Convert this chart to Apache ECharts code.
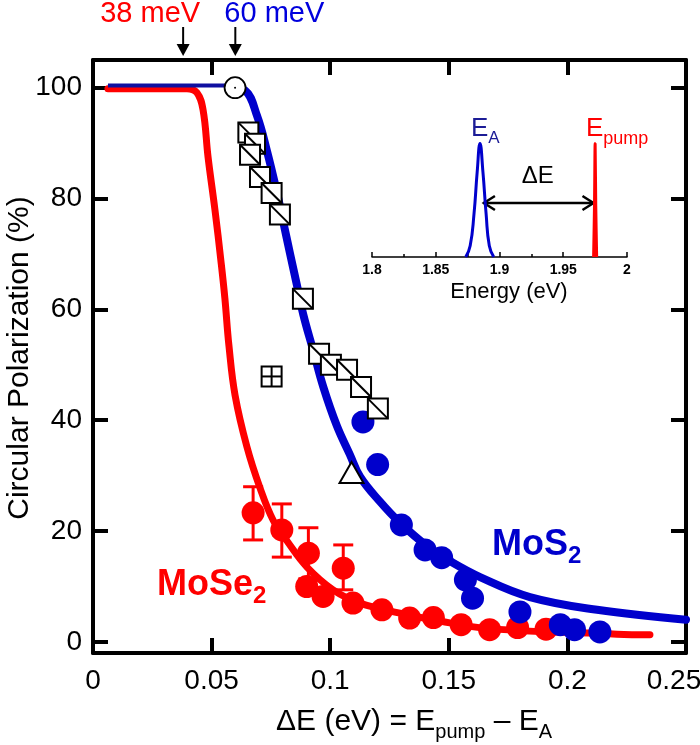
<!DOCTYPE html>
<html><head><meta charset="utf-8">
<script src="https://cdn.jsdelivr.net/npm/echarts@6/dist/echarts.min.js"></script>
<style>html,body{margin:0;padding:0;background:#fff}#c{width:700px;height:745px}</style>
</head><body><div id="c"></div>
<script>
// ---- axis ticks ----
const xTickValues = [0, 0.05, 0.1, 0.15, 0.2, 0.25];
const xTickLabels = ['0', '0.05', '0.1', '0.15', '0.2', '0.25'];
const yTickValues = [0, 20, 40, 60, 80, 100];
const yTickLabels = ['0', '20', '40', '60', '80', '100'];
const insetTickValues = [1.8, 1.85, 1.9, 1.95, 2.0];
const insetTickLabels = ['1.8', '1.85', '1.9', '1.95', '2'];

// ---- fits ----
const mose2Fit = [[0.0063,99.8],[0.0396,99.8],[0.0438,99.1],[0.0464,96.0],[0.0485,87.5],[0.0514,78.0],[0.0540,68.5],[0.0556,62.0],[0.0573,53.5],[0.0599,44.5],[0.0649,35.2],[0.0704,27.8],[0.0759,22.0],[0.0818,18.2],[0.0902,13.5],[0.1012,9.4],[0.1126,7.0],[0.1294,5.2],[0.1433,4.0],[0.1674,2.4],[0.2209,1.4],[0.2348,1.3]];
const mos2Plateau = [[0.0063,100.4],[0.058,100.4]];
const mos2Fit = [[0.058,100],[0.0641,99.5],[0.0691,95],[0.0734,88.5],[0.0776,81],[0.0801,76],[0.0831,70],[0.0859,64.5],[0.0887,59],[0.0929,52.5],[0.0971,46],[0.1028,39],[0.1083,33.8],[0.1126,29.8],[0.121,25.3],[0.1294,21.5],[0.1408,17.3],[0.1505,14.6],[0.1632,11.7],[0.1842,8.1],[0.2125,5.8],[0.25,4.0]];

// ---- data ----
const mose2Points = [[0.0901,10.0],[0.0970,8.2],[0.1096,7.0],[0.1218,5.8],[0.1335,4.3],[0.1435,4.4],[0.1552,3.1],[0.1672,2.2],[0.1790,2.6],[0.1910,2.3]];
const mose2ErrPoints = [[0.0675,23.3,18.4,28.0],[0.0796,20.2,15.3,24.9],[0.0908,16.0,11.4,20.6],[0.1055,13.3,9.4,17.5]];
const mos2Points = [[0.1138,39.7],[0.1200,32.0],[0.1300,21.1],[0.1400,16.6],[0.1470,15.2],[0.1570,11.2],[0.1600,7.9],[0.1800,5.4],[0.1970,3.1],[0.2030,2.2],[0.2137,1.8]];
const slashSquarePoints = [[0.0655,91.9],[0.0683,89.9],[0.0662,87.9],[0.0704,83.9],[0.0753,81.0],[0.0788,77.1],[0.0885,61.9],[0.0953,52.0],[0.1003,50.0],[0.1071,49.1],[0.1130,46.0],[0.1201,42.1]];
const crossSquarePoints = [[0.0753,47.9]];
const openCirclePoints = [[0.0599,100]];
const trianglePoints = [[0.1090,30.3]];

// ---- inset ----
const eaPeak = [[1.8735,0],[1.8770,0.10],[1.8800,0.38],[1.8825,0.75],[1.8847,1.0],[1.8870,0.75],[1.8895,0.38],[1.8920,0.10],[1.8955,0]];
const pumpPeak = [[1.9738,0],[1.9745,0.45],[1.9750,1.0],[1.9755,0.45],[1.9762,0]];
const deltaArrow = [[1.8870,0.476],[1.9745,0.476]];

// ---- top markers ----
const thresholdValues = [0.038, 0.060];
const thresholdLabels = ['38 meV', '60 meV'];
const thresholdColors = ['#ff0000', '#0000dd'];

const RED = '#ff0000', BLUE = '#0000cc';
const FONT = 'Liberation Sans, Arial, sans-serif';

const chart = echarts.init(document.getElementById('c'), null, {renderer: 'canvas'});

function idx(v, values) {
  let best = 0;
  values.forEach((t, i) => { if (Math.abs(t - v) < Math.abs(values[best] - v)) best = i; });
  return best;
}

const mainAxisLine = {show: true, onZero: false, lineStyle: {color: '#000', width: 4}};
const mainTick = {show: true, inside: true, length: 15, lineStyle: {color: '#000', width: 4}};

const option = {
  animation: false,
  backgroundColor: '#fff',
  grid: [
    {left: 93, right: 14, top: 60, bottom: 92, containLabel: false, outerBoundsMode: 'none'},
    {left: 372, top: 130, width: 255, height: 127, containLabel: false, outerBoundsMode: 'none'}
  ],
  xAxis: [
    {gridIndex: 0, type: 'value', min: 0, max: 0.25, position: 'bottom',
     axisLine: mainAxisLine, axisTick: Object.assign({}, mainTick, {customValues: xTickValues}),
     axisLabel: {customValues: xTickValues,
       formatter: v => { const i = idx(v, xTickValues); return i === xTickValues.length - 1 ? '{r|' + xTickLabels[i] + '}' : xTickLabels[i]; },
       rich: {r: {fontSize: 28, fontFamily: FONT, color: '#000', padding: [0, 24, 0, 0]}},
       color: '#000', fontSize: 28, fontFamily: FONT, margin: 14},
     splitLine: {show: false}},
    {gridIndex: 0, type: 'value', min: 0, max: 0.25, position: 'top',
     axisLine: mainAxisLine, axisTick: Object.assign({}, mainTick, {customValues: xTickValues}),
     axisLabel: {show: false}, splitLine: {show: false}},
    {gridIndex: 1, type: 'value', min: 1.8, max: 2.0, interval: 0.05,
     axisLine: {show: true, onZero: false, lineStyle: {color: '#000', width: 1.5}},
     axisTick: {show: true, inside: true, length: 5, lineStyle: {color: '#000', width: 1.5}},
     minorTick: {show: true, splitNumber: 2, length: 3, lineStyle: {color: '#000', width: 1.5}},
     axisLabel: {formatter: v => insetTickLabels[idx(v, insetTickValues)], color: '#000', fontSize: 14, fontWeight: 'bold', fontFamily: FONT, margin: 6},
     splitLine: {show: false}}
  ],
  yAxis: [
    {gridIndex: 0, type: 'value', min: -2, max: 105, position: 'left',
     axisLine: mainAxisLine, axisTick: Object.assign({}, mainTick, {customValues: yTickValues}),
     axisLabel: {customValues: yTickValues, formatter: v => yTickLabels[idx(v, yTickValues)], color: '#000', fontSize: 28, fontFamily: FONT, margin: 11},
     splitLine: {show: false}},
    {gridIndex: 0, type: 'value', min: -2, max: 105, position: 'right',
     axisLine: mainAxisLine, axisTick: Object.assign({}, mainTick, {customValues: yTickValues}),
     axisLabel: {show: false}, splitLine: {show: false}},
    {gridIndex: 1, type: 'value', min: 0, max: 1.12, show: false, splitLine: {show: false}}
  ],
  series: [
    {type: 'line', name: 'MoSe2 fit', xAxisIndex: 0, yAxisIndex: 0, data: mose2Fit, smooth: 0.4, showSymbol: false,
     lineStyle: {color: RED, width: 7, cap: 'round', join: 'round'}, z: 2},
    {type: 'line', name: 'MoS2 plateau', xAxisIndex: 0, yAxisIndex: 0, data: mos2Plateau, showSymbol: false,
     lineStyle: {color: '#1010a0', width: 4}, z: 3},
    {type: 'line', name: 'MoS2 fit', xAxisIndex: 0, yAxisIndex: 0, data: mos2Fit, smooth: 0.4, showSymbol: false,
     lineStyle: {color: BLUE, width: 8, cap: 'round', join: 'round'}, z: 3},
    {type: 'custom', name: 'MoSe2 err', xAxisIndex: 0, yAxisIndex: 0, data: mose2ErrPoints, z: 4,
     renderItem: (params, api) => {
       const top = api.coord([api.value(0), api.value(3)]);
       const bot = api.coord([api.value(0), api.value(2)]);
       const w = 10;
       const st = {stroke: RED, lineWidth: 3};
       return {type: 'group', children: [
         {type: 'line', shape: {x1: top[0], y1: top[1], x2: bot[0], y2: bot[1]}, style: st},
         {type: 'line', shape: {x1: top[0]-w, y1: top[1], x2: top[0]+w, y2: top[1]}, style: st},
         {type: 'line', shape: {x1: bot[0]-w, y1: bot[1], x2: bot[0]+w, y2: bot[1]}, style: st}
       ]};
     }},
    {type: 'scatter', name: 'MoSe2 err pts', xAxisIndex: 0, yAxisIndex: 0, data: mose2ErrPoints.map(d => [d[0], d[1]]), symbol: 'circle', symbolSize: 23,
     itemStyle: {color: RED, opacity: 1}, z: 5},
    {type: 'scatter', name: 'MoSe2', xAxisIndex: 0, yAxisIndex: 0, data: mose2Points, symbol: 'circle', symbolSize: 23,
     itemStyle: {color: RED, opacity: 1}, z: 5},
    {type: 'scatter', name: 'MoS2', xAxisIndex: 0, yAxisIndex: 0, data: mos2Points, symbol: 'circle', symbolSize: 23,
     itemStyle: {color: BLUE, opacity: 1}, z: 6},
    {type: 'custom', name: 'open squares', xAxisIndex: 0, yAxisIndex: 0, data: slashSquarePoints, z: 7,
     renderItem: (params, api) => {
       const p = api.coord([api.value(0), api.value(1)]);
       const h = 10;
       return {type: 'group', children: [
         {type: 'rect', shape: {x: p[0]-h, y: p[1]-h, width: 2*h, height: 2*h}, style: {fill: '#fff', stroke: '#000', lineWidth: 2}},
         {type: 'line', shape: {x1: p[0]-h, y1: p[1]-h, x2: p[0]+h, y2: p[1]+h}, style: {stroke: '#000', lineWidth: 2}}
       ]};
     }},
    {type: 'custom', name: 'cross square', xAxisIndex: 0, yAxisIndex: 0, data: crossSquarePoints, z: 7,
     renderItem: (params, api) => {
       const p = api.coord([api.value(0), api.value(1)]);
       const h = 10;
       return {type: 'group', children: [
         {type: 'rect', shape: {x: p[0]-h, y: p[1]-h, width: 2*h, height: 2*h}, style: {fill: '#fff', stroke: '#000', lineWidth: 2}},
         {type: 'line', shape: {x1: p[0], y1: p[1]-h, x2: p[0], y2: p[1]+h}, style: {stroke: '#000', lineWidth: 2}},
         {type: 'line', shape: {x1: p[0]-h, y1: p[1], x2: p[0]+h, y2: p[1]}, style: {stroke: '#000', lineWidth: 2}}
       ]};
     }},
    {type: 'custom', name: 'open circle', xAxisIndex: 0, yAxisIndex: 0, data: openCirclePoints, z: 7,
     renderItem: (params, api) => {
       const p = api.coord([api.value(0), api.value(1)]);
       return {type: 'group', children: [
         {type: 'circle', shape: {cx: p[0], cy: p[1], r: 10.5}, style: {fill: '#fff', stroke: '#000', lineWidth: 1.8}},
         {type: 'circle', shape: {cx: p[0], cy: p[1], r: 1}, style: {fill: '#000'}}
       ]};
     }},
    {type: 'custom', name: 'triangle', xAxisIndex: 0, yAxisIndex: 0, data: trianglePoints, z: 7,
     renderItem: (params, api) => {
       const p = api.coord([api.value(0), api.value(1)]);
       const s = 12;
       return {type: 'polygon', shape: {points: [[p[0], p[1]-s], [p[0]+s, p[1]+s*0.75], [p[0]-s, p[1]+s*0.75]]},
         style: {fill: '#fff', stroke: '#000', lineWidth: 2}};
     }},
    {type: 'line', name: 'EA', xAxisIndex: 2, yAxisIndex: 2, data: eaPeak, smooth: 0.5, showSymbol: false,
     lineStyle: {color: BLUE, width: 3}, z: 3},
    {type: 'line', name: 'Epump', xAxisIndex: 2, yAxisIndex: 2, data: pumpPeak, smooth: 0.3, showSymbol: false,
     lineStyle: {color: RED, width: 3}, z: 3}
  ]
};
chart.setOption(option);

// ---- annotations ----
const g = [];
thresholdValues.forEach((v, i) => {
  const px = chart.convertToPixel({xAxisIndex: 0}, v);
  g.push({type: 'line', shape: {x1: px, y1: 27, x2: px, y2: 50}, style: {stroke: '#000', lineWidth: 2}});
  g.push({type: 'polygon', shape: {points: [[px-6.5, 44], [px+6.5, 44], [px, 56]]}, style: {fill: '#000'}});
  g.push({type: 'text', x: px + (i === 0 ? -33 : 39), y: 14, style: {text: thresholdLabels[i], fill: thresholdColors[i], font: '29px ' + FONT, align: 'center', verticalAlign: 'middle'}});
});
// y axis title
g.push({type: 'text', x: 20, y: 358, rotation: Math.PI / 2, style: {text: 'Circular Polarization (%)', fill: '#000', font: '30px ' + FONT, align: 'center', verticalAlign: 'middle'}});
// delta-E arrow in inset
const a0 = chart.convertToPixel({xAxisIndex: 2, yAxisIndex: 2}, deltaArrow[0]);
const a1 = chart.convertToPixel({xAxisIndex: 2, yAxisIndex: 2}, deltaArrow[1]);
g.push({type: 'line', shape: {x1: a0[0], y1: a0[1], x2: a1[0], y2: a1[1]}, style: {stroke: '#000', lineWidth: 2.5}});
g.push({type: 'polyline', shape: {points: [[a0[0]+12, a0[1]-7], [a0[0]+1, a0[1]], [a0[0]+12, a0[1]+7]]}, style: {stroke: '#000', lineWidth: 2.5, fill: null}});
g.push({type: 'polyline', shape: {points: [[a1[0]-12, a1[1]-7], [a1[0]-1, a1[1]], [a1[0]-12, a1[1]+7]]}, style: {stroke: '#000', lineWidth: 2.5, fill: null}});
g.push({type: 'text', x: (a0[0]+a1[0])/2 - 1, y: a0[1] - 27, style: {text: 'ΔE', fill: '#000', font: '24px ' + FONT, align: 'center', verticalAlign: 'middle'}});
g.push({type: 'text', x: 509, y: 292, style: {text: 'Energy (eV)', fill: '#000', font: '22px ' + FONT, align: 'center', verticalAlign: 'middle'}});
const sub = (big, small, color, bs, ss, drop, weight) => ({
  text: '{b|' + big + '}{s|' + small + '}',
  rich: {
    b: {fontSize: bs, fontFamily: FONT, fontWeight: weight || 'normal', fill: color, color: color, lineHeight: bs + 10},
    s: {fontSize: ss, fontFamily: FONT, fontWeight: weight || 'normal', fill: color, color: color, lineHeight: ss, padding: [drop, 0, 0, 0]}
  }
});
g.push({type: 'text', x: 471, y: 129, style: Object.assign({align: 'left', verticalAlign: 'middle'}, sub('E', 'A', '#1c1c96', 26, 17, 18))});
g.push({type: 'text', x: 586, y: 129, style: Object.assign({align: 'left', verticalAlign: 'middle'}, sub('E', 'pump', RED, 26, 18, 20))});
g.push({type: 'text', x: 492, y: 545, style: Object.assign({align: 'left', verticalAlign: 'middle'}, sub('MoS', '2', BLUE, 36, 24, 22, 'bold'))});
g.push({type: 'text', x: 157, y: 585, style: Object.assign({align: 'left', verticalAlign: 'middle'}, sub('MoSe', '2', RED, 36, 24, 22, 'bold'))});
// x axis title
g.push({type: 'text', x: 414, y: 722, style: {
  text: '{b|ΔE (eV) = E}{s|pump}{b| – E}{s|A}', align: 'center', verticalAlign: 'middle',
  rich: {
    b: {fontSize: 30, fontFamily: FONT, fill: '#000', color: '#000', lineHeight: 40},
    s: {fontSize: 20, fontFamily: FONT, fill: '#000', color: '#000', lineHeight: 20, padding: [20, 0, 0, 0]}
  }}});
chart.setOption({graphic: g});
</script></body></html>
